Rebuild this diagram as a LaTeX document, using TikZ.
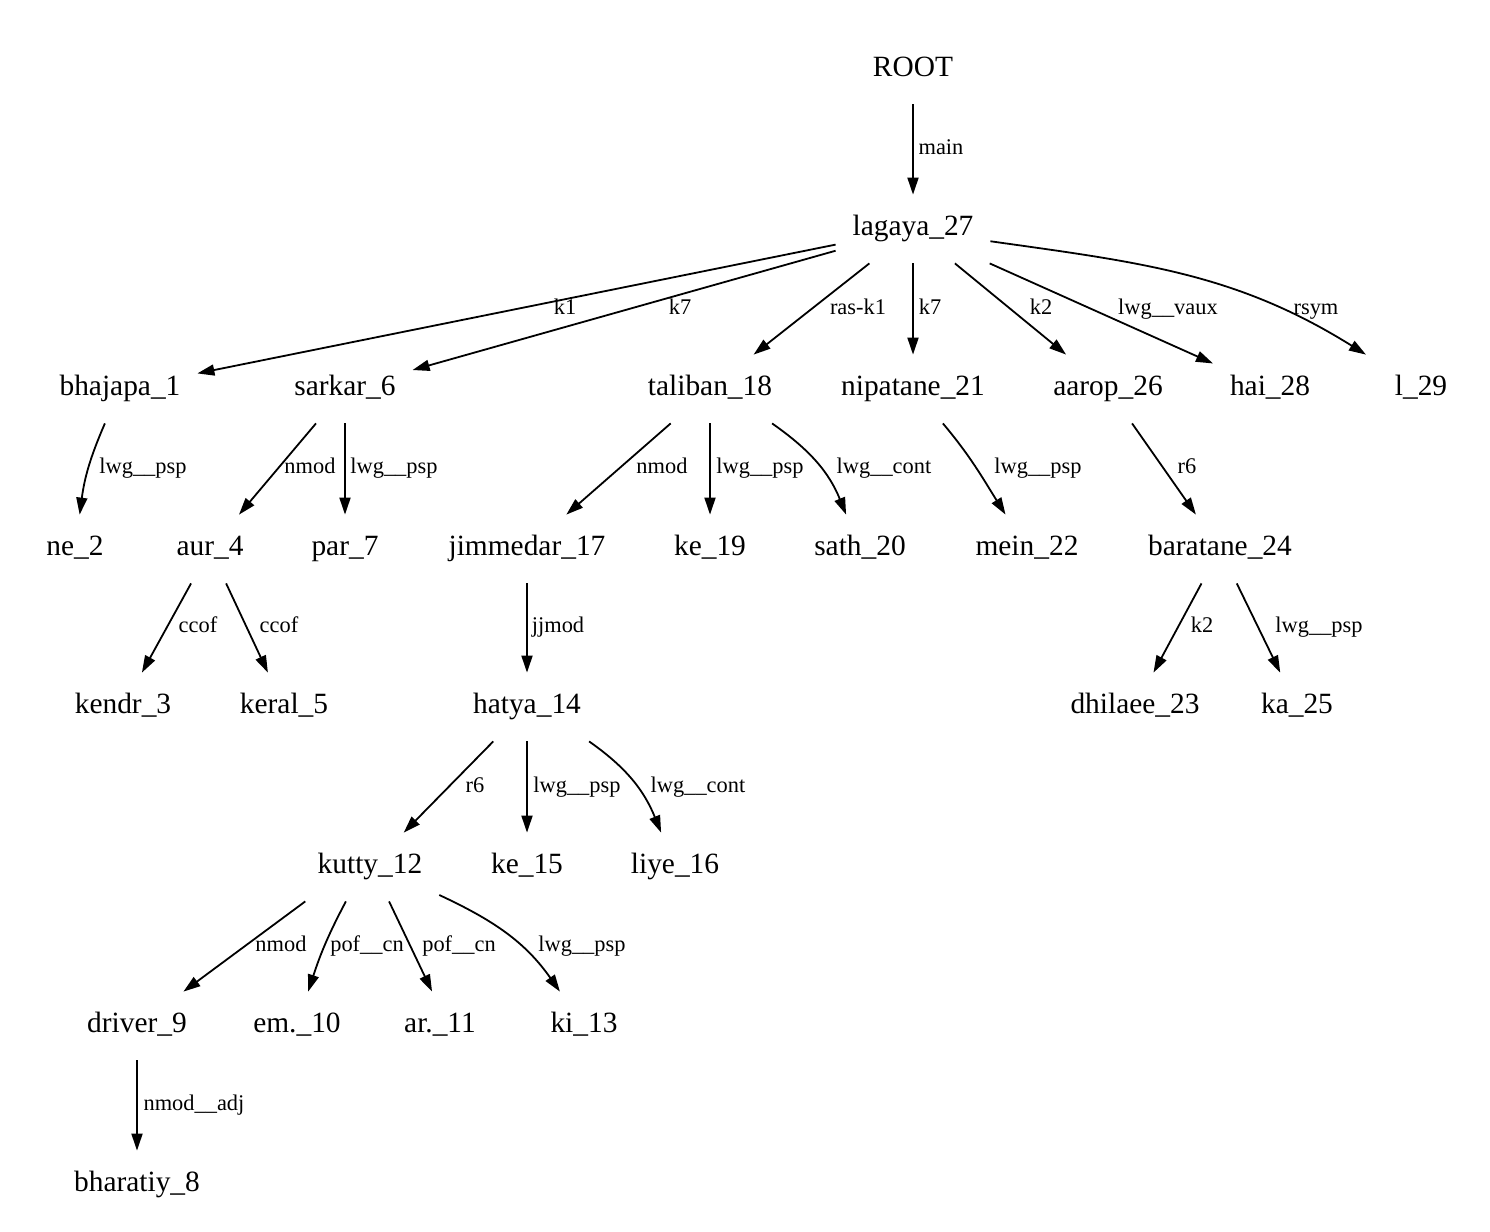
\documentclass[tikz,border=0pt]{standalone}
\usepackage{fontspec}
\setmainfont{Liberation Serif}
\usetikzlibrary{arrows.meta}

\begin{document}
\begin{tikzpicture}[x=0.5pt,y=-0.5pt,
    word/.style={inner xsep=8.3pt, inner ysep=0pt, minimum height=34pt, minimum width=56pt,
        text height=0.85em, text depth=0.19em, font=\fontsize{14.7}{17}\selectfont},
    rel/.style={anchor=mid, yshift=-1.5pt, font=\fontsize{11.2}{13}\selectfont},
    dep/.style={line width=0.9pt, -{Triangle[length=8.5pt,width=5.5pt]}}]
    \useasboundingbox (0,0) rectangle (1490,1232);

    % words
    \node[word] (root) at (913,70) {ROOT};
    \node[word] (lagaya) at (913,229) {lagaya\_27};

    \node[word] (bhajapa) at (120,389) {bhajapa\_1};
    \node[word] (sarkar) at (345,389) {sarkar\_6};
    \node[word] (taliban) at (710,389) {taliban\_18};
    \node[word] (nipatane) at (913,389) {nipatane\_21};
    \node[word] (aarop) at (1108,389) {aarop\_26};
    \node[word] (hai) at (1270,389) {hai\_28};
    \node[word] (danda) at (1421,389) {l\_29};

    \node[word] (ne) at (75,549) {ne\_2};
    \node[word] (aur) at (210,549) {aur\_4};
    \node[word] (par) at (345,549) {par\_7};
    \node[word] (jimmedar) at (527,549) {jimmedar\_17};
    \node[word] (keA) at (710,549) {ke\_19};
    \node[word] (sath) at (860,549) {sath\_20};
    \node[word] (mein) at (1027,549) {mein\_22};
    \node[word] (baratane) at (1220,549) {baratane\_24};

    \node[word] (kendr) at (123,707) {kendr\_3};
    \node[word] (keral) at (284,707) {keral\_5};
    \node[word] (hatya) at (527,707) {hatya\_14};
    \node[word] (dhilaee) at (1135,707) {dhilaee\_23};
    \node[word] (ka) at (1297,707) {ka\_25};

    \node[word] (kutty) at (370,867) {kutty\_12};
    \node[word] (keB) at (527,867) {ke\_15};
    \node[word] (liye) at (675,867) {liye\_16};

    \node[word] (driver) at (137,1026) {driver\_9};
    \node[word] (em) at (297,1026) {em.\_10};
    \node[word] (ar) at (440,1026) {ar.\_11};
    \node[word] (ki) at (584,1026) {ki\_13};

    \node[word] (bharatiy) at (137,1185) {bharatiy\_8};

    % dependencies
    \draw[dep] (root) -- (lagaya);
    \draw[dep] (lagaya) -- (bhajapa);
    \draw[dep] (lagaya) -- (sarkar);
    \draw[dep] (lagaya) -- (taliban);
    \draw[dep] (lagaya) -- (nipatane);
    \draw[dep] (lagaya) -- (aarop);
    \draw[dep] (lagaya) -- (hai);
    \draw[dep] (lagaya.-9) to[out=-8,in=148] (danda);

    \draw[dep] (bhajapa) to[bend right=8] (ne);
    \draw[dep] (sarkar) -- (aur);
    \draw[dep] (sarkar) -- (par);
    \draw[dep] (taliban) -- (jimmedar);
    \draw[dep] (taliban) -- (keA);
    \draw[dep] (taliban.-29) to[out=-35,in=112] (sath);
    \draw[dep] (nipatane.-49) to[out=-50,in=122] (mein);
    \draw[dep] (aarop) -- (baratane);

    \draw[dep] (aur) -- (kendr);
    \draw[dep] (aur) -- (keral);
    \draw[dep] (jimmedar) -- (hatya);
    \draw[dep] (baratane) -- (dhilaee);
    \draw[dep] (baratane) -- (ka);

    \draw[dep] (hatya) -- (kutty);
    \draw[dep] (hatya) -- (keB);
    \draw[dep] (hatya.-29) to[out=-35,in=112] (liye);

    \draw[dep] (kutty.-152) -- (driver);
    \draw[dep] (kutty.-125) to[out=-118,in=72] (em);
    \draw[dep] (kutty.-61) -- (ar.103);
    \draw[dep] (kutty.-22) to[out=-25,in=125] (ki);

    \draw[dep] (driver) -- (bharatiy);

    % relation labels
    \node[rel] at (941,147) {main};
    \node[rel] at (565,307) {k1};
    \node[rel] at (680,307) {k7};
    \node[rel] at (858,307) {ras-k1};
    \node[rel] at (930,307) {k7};
    \node[rel] at (1041,307) {k2};
    \node[rel] at (1168,307) {lwg\_\_vaux};
    \node[rel] at (1316,307) {rsym};

    \node[rel] at (143,466) {lwg\_\_psp};
    \node[rel] at (310,466) {nmod};
    \node[rel] at (394,466) {lwg\_\_psp};
    \node[rel] at (662,466) {nmod};
    \node[rel] at (760,466) {lwg\_\_psp};
    \node[rel] at (884,466) {lwg\_\_cont};
    \node[rel] at (1038,466) {lwg\_\_psp};
    \node[rel] at (1187,466) {r6};

    \node[rel] at (198,625) {ccof};
    \node[rel] at (279,625) {ccof};
    \node[rel] at (558,625) {jjmod};
    \node[rel] at (1202,625) {k2};
    \node[rel] at (1319,625) {lwg\_\_psp};

    \node[rel] at (475,785) {r6};
    \node[rel] at (577,785) {lwg\_\_psp};
    \node[rel] at (698,785) {lwg\_\_cont};

    \node[rel] at (281,944) {nmod};
    \node[rel] at (367,944) {pof\_\_cn};
    \node[rel] at (459,944) {pof\_\_cn};
    \node[rel] at (582,944) {lwg\_\_psp};

    \node[rel] at (194,1103) {nmod\_\_adj};
\end{tikzpicture}
\end{document}
